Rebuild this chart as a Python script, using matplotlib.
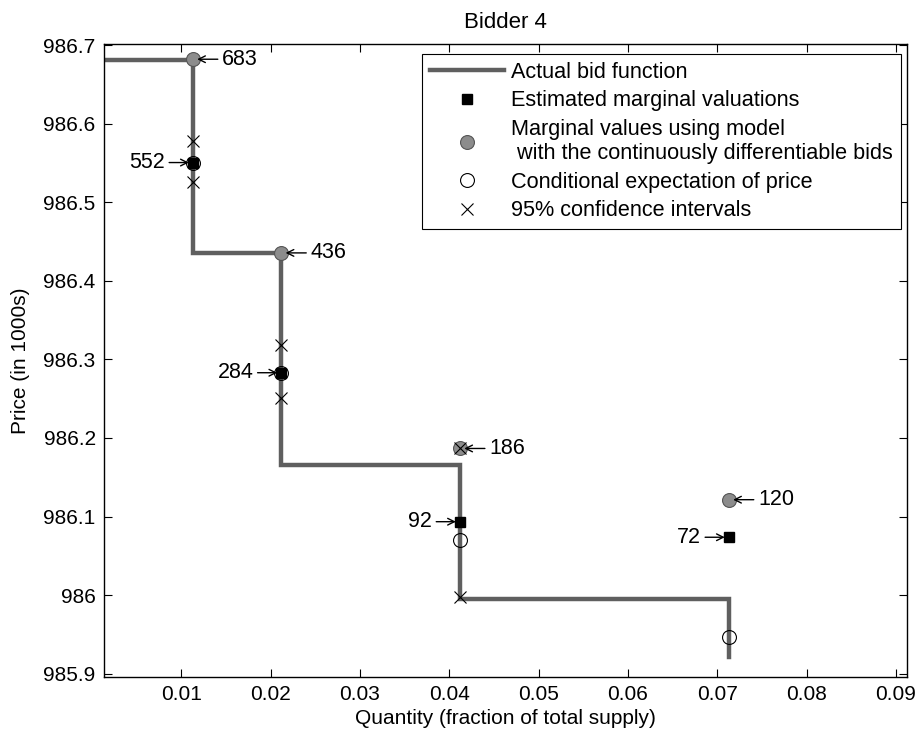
import matplotlib
matplotlib.use('Agg')
import matplotlib.pyplot as plt
from matplotlib.lines import Line2D

plt.rcParams['font.family'] = ['Liberation Sans', 'DejaVu Sans']

# ---- data ----
# actual (step) bid function
bid_q = [0.0, 0.0113, 0.0113, 0.0212, 0.0212, 0.0412, 0.0412, 0.0713, 0.0713]
bid_p = [986.681, 986.681, 986.436, 986.436, 986.166, 986.166, 985.995, 985.995, 985.921]

step_q = [0.0113, 0.0212, 0.0412, 0.0713]
est_val = [986.5505, 986.283, 986.0934, 986.0736]      # estimated marginal valuations
model_val = [986.682, 986.4355, 986.1866, 986.1214]    # continuously differentiable model
cond_exp = [986.5505, 986.283, 986.0706, 985.9466]     # conditional expectation of price
ci_q = [0.0113, 0.0212, 0.0412]
ci_lo = [986.5257, 986.2505, 985.997]
ci_hi = [986.5785, 986.3178, 986.1866]

model_labels = ['683', '436', '186', '120']
est_labels = ['552', '284', '92', '72']

xticks = [0.01, 0.02, 0.03, 0.04, 0.05, 0.06, 0.07, 0.08, 0.09]
xticklabels = ['0.01', '0.02', '0.03', '0.04', '0.05', '0.06', '0.07', '0.08', '0.09']
yticks = [985.9, 986.0, 986.1, 986.2, 986.3, 986.4, 986.5, 986.6, 986.7]
yticklabels = ['985.9', '986', '986.1', '986.2', '986.3', '986.4', '986.5', '986.6', '986.7']

line_col = '#5f5f5f'
gray_fill = '#8c8c8c'
fs = 15

fig = plt.figure(figsize=(9.22, 7.4), dpi=100)
ax = fig.add_axes([0.1128, 0.0851, 0.8709, 0.8561])

ax.plot(bid_q, bid_p, color=line_col, lw=3.2, solid_joinstyle='miter', zorder=2)
ax.plot(step_q, model_val, 'o', ms=10, mfc=gray_fill, mec='#555555', mew=0.8, zorder=3)
ax.plot(step_q, cond_exp, 'o', ms=10, mfc='none', mec='black', mew=0.8, zorder=4)
ax.plot(step_q, est_val, 's', ms=7.5, mfc='black', mec='black', zorder=5)
ax.plot(ci_q, ci_lo, 'x', ms=8, color='black', mew=0.8, zorder=6)
ax.plot(ci_q, ci_hi, 'x', ms=8, color='black', mew=0.8, zorder=6)

arrow = dict(arrowstyle='->', color='black', lw=1, shrinkA=1, shrinkB=3,
             mutation_scale=12)
for q, v, lab in zip(step_q, model_val, model_labels):
    ax.annotate(lab, xy=(q, v), xytext=(29, 0), textcoords='offset pixels',
                ha='left', va='center', fontsize=fs + 0.5,
                arrowprops=dict(arrow, relpos=(0, 0.5)))
for q, v, lab in zip(step_q, est_val, est_labels):
    ax.annotate(lab, xy=(q, v), xytext=(-28, 0), textcoords='offset pixels',
                ha='right', va='center', fontsize=fs + 0.5,
                arrowprops=dict(arrow, relpos=(1, 0.5)))

ax.set_xlim(0.00134, 0.09123)
ax.set_ylim(985.8957, 986.702)
ax.set_xticks(xticks)
ax.set_xticklabels(xticklabels)
ax.set_yticks(yticks)
ax.set_yticklabels(yticklabels)
ax.tick_params(direction='in', top=True, right=True, length=6, width=0.8,
               labelsize=fs, pad=6)
for s in ax.spines.values():
    s.set_linewidth(1)

ax.set_title('Bidder 4', fontsize=16, pad=11)
ax.set_xlabel('Quantity (fraction of total supply)', fontsize=fs, labelpad=3)
ax.set_ylabel('Price (in 1000s)', fontsize=fs, labelpad=10)

handles = [
    Line2D([], [], color=line_col, lw=3.2),
    Line2D([], [], ls='none', marker='s', ms=7.5, mfc='black', mec='black'),
    Line2D([], [], ls='none', marker='o', ms=10, mfc=gray_fill, mec='#555555', mew=0.8),
    Line2D([], [], ls='none', marker='o', ms=10, mfc='none', mec='black', mew=0.8),
    Line2D([], [], ls='none', marker='x', ms=8, color='black', mew=0.8),
]
labels = [
    'Actual bid function',
    'Estimated marginal valuations',
    'Marginal values using model\n with the continuously differentiable bids',
    'Conditional expectation of price',
    '95% confidence intervals',
]
leg = ax.legend(handles, labels, loc='upper right', bbox_to_anchor=(0.992, 0.983),
                fontsize=15.6, fancybox=False, framealpha=1, edgecolor='black',
                handlelength=3.4, handletextpad=0.35, borderpad=0.35,
                labelspacing=0.35, borderaxespad=0)
leg.get_frame().set_linewidth(0.8)

fig.savefig('out.png', dpi=100)
